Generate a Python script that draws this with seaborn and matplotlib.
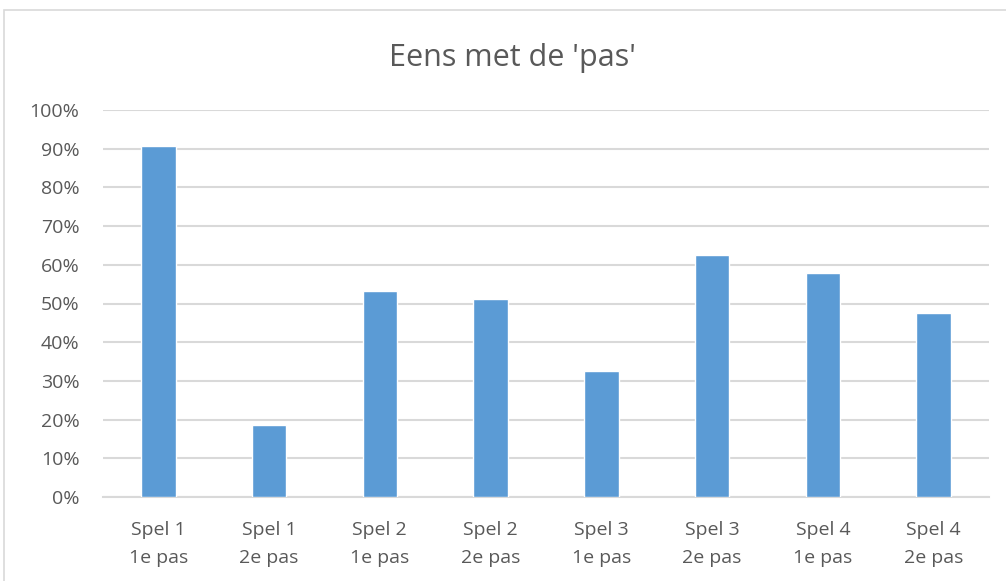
import numpy as np
import pandas as pd
import matplotlib.pyplot as plt
import matplotlib.patches as patches
from matplotlib.ticker import PercentFormatter
import seaborn as sns

# Data
categories = ["Spel 1\n1e pas", "Spel 1\n2e pas", "Spel 2\n1e pas", "Spel 2\n2e pas",
              "Spel 3\n1e pas", "Spel 3\n2e pas", "Spel 4\n1e pas", "Spel 4\n2e pas"]
values = [0.907, 0.187, 0.532, 0.511, 0.325, 0.625, 0.578, 0.476]
yticks = np.arange(0, 1.01, 0.1)

df = pd.DataFrame({"cat": categories, "val": values})

sns.set_style("white")
plt.rcParams['font.family'] = ['Open Sans', 'DejaVu Sans']

fig = plt.figure(figsize=(10.06, 5.81), dpi=100)
ax = fig.add_axes([103 / 1006, 1 - 497 / 581, (989 - 103) / 1006, (497 - 110) / 581])

# chart frame
fig.patches.append(patches.Rectangle((4 / 1006, -0.05), 1.1, 1 - 10 / 581 + 0.05,
                                     transform=fig.transFigure, fill=False,
                                     edgecolor="#d9d9d9", linewidth=1.2))

sns.barplot(data=df, x="cat", y="val", color="#5b9bd5", width=0.31,
            saturation=1, ax=ax, zorder=3)

ax.set_ylim(0, 1)
ax.set_xlim(-0.5, len(categories) - 0.5)
ax.set_yticks(yticks)
ax.yaxis.set_major_formatter(PercentFormatter(1.0, decimals=0))
ax.grid(axis="y", color="#d9d9d9", linewidth=1.5, zorder=0)
ax.set_axisbelow(True)
for s in ["top", "right", "left"]:
    ax.spines[s].set_visible(False)
ax.spines["bottom"].set_color("#d9d9d9")
ax.spines["bottom"].set_linewidth(1.5)
ax.set_xlabel("")
ax.set_ylabel("")
ax.tick_params(axis="both", length=0, labelsize=14, labelcolor="#595959")
ax.tick_params(axis="y", pad=17)
ax.tick_params(axis="x", pad=17)
for lbl in ax.get_xticklabels():
    lbl.set_linespacing(1.75)

fig.text(0.509, 1 - 58 / 581, "Eens met de 'pas'", ha="center", va="center",
         fontsize=22, color="#595959")

plt.savefig("out.png", dpi=100)
